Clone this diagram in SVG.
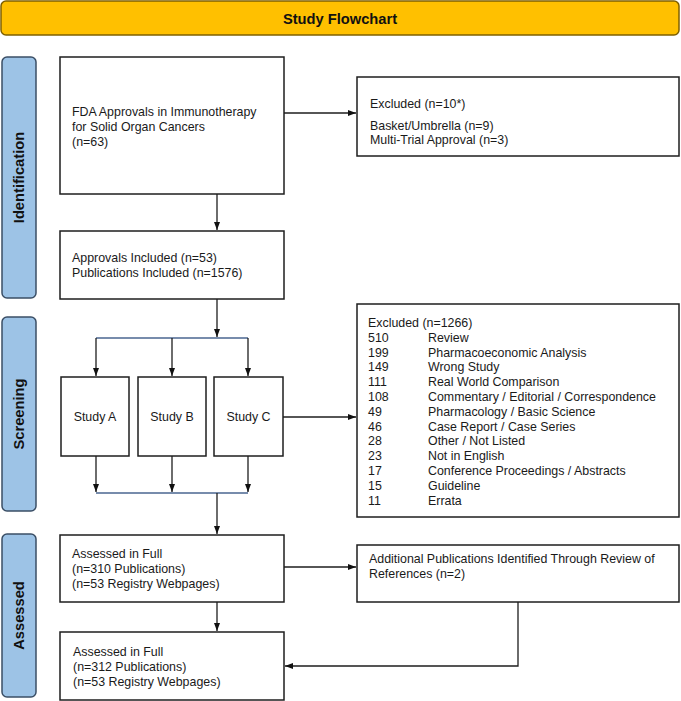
<svg xmlns="http://www.w3.org/2000/svg" width="681" height="701" viewBox="0 0 681 701">
<defs>
<marker id="arr" markerUnits="userSpaceOnUse" markerWidth="9" markerHeight="7" refX="8" refY="3" orient="auto">
<path d="M0,0 L8,3 L0,6 z" fill="#111"/>
</marker>
<style>
text{font-family:"Liberation Sans",Arial,sans-serif;font-size:12.4px;fill:#1a1a1a}
.box{fill:#fff;stroke:#1e1e1e;stroke-width:1.5}
.side{fill:#9dc3e6;stroke:#3b4f66;stroke-width:1.5}
.sidet{font-weight:bold;font-size:14.7px;fill:#111;text-anchor:middle}
.ln{fill:none;stroke:#1e1e1e;stroke-width:1.3}
.bl{fill:none;stroke:#4a6690;stroke-width:1.3}
.c{text-anchor:middle}
</style>
</defs>
<g id="header">
<rect x="1" y="1" width="678" height="34" rx="5" fill="#ffc000" stroke="#7f6000" stroke-width="1.5"/>
<text x="340" y="24" style="font-weight:bold;font-size:14.7px;fill:#111" text-anchor="middle">Study Flowchart</text>
</g>
<g id="lbl-identification">
<rect class="side" x="2" y="57" width="34" height="241" rx="5"/>
<text class="sidet" transform="translate(24,177.5) rotate(-90)">Identification</text>
</g>
<g id="lbl-screening">
<rect class="side" x="2" y="317" width="34" height="194" rx="5"/>
<text class="sidet" transform="translate(24,414) rotate(-90)">Screening</text>
</g>
<g id="lbl-assessed">
<rect class="side" x="2" y="534" width="34" height="163" rx="5"/>
<text class="sidet" transform="translate(24,615.5) rotate(-90)">Assessed</text>
</g>
<g id="connectors">
<path class="ln" d="M284 113 H356" marker-end="url(#arr)"/>
<path class="ln" d="M217 194 V230" marker-end="url(#arr)"/>
<path class="ln" d="M217 299 V337" marker-end="url(#arr)"/>
<path class="bl" d="M96 338 H248"/>
<path class="ln" d="M96 338 V376" marker-end="url(#arr)"/>
<path class="ln" d="M172 338 V376" marker-end="url(#arr)"/>
<path class="ln" d="M248 338 V376" marker-end="url(#arr)"/>
<path class="ln" d="M96 456 V492" marker-end="url(#arr)"/>
<path class="ln" d="M172 456 V492" marker-end="url(#arr)"/>
<path class="ln" d="M248 456 V492" marker-end="url(#arr)"/>
<path class="bl" d="M96 493 H248"/>
<path class="ln" d="M217 493 V534" marker-end="url(#arr)"/>
<path class="ln" d="M283 417 H356" marker-end="url(#arr)"/>
<path class="ln" d="M284 567 H356" marker-end="url(#arr)"/>
<path class="ln" d="M217 602 V631" marker-end="url(#arr)"/>
<path class="ln" d="M518 602 V666 H285" marker-end="url(#arr)"/>
</g>
<g id="fda">
<rect class="box" x="60" y="57" width="224" height="137"/>
<text x="72" y="116">FDA Approvals in Immunotherapy</text>
<text x="72" y="131">for Solid Organ Cancers</text>
<text x="72" y="146">(n=63)</text>
</g>
<g id="approvals">
<rect class="box" x="60" y="231" width="224" height="68"/>
<text x="72" y="262">Approvals Included (n=53)</text>
<text x="72" y="277">Publications Included (n=1576)</text>
</g>
<g id="excluded1">
<rect class="box" x="357" y="77" width="322" height="79"/>
<text x="370" y="108">Excluded (n=10*)</text>
<text x="370" y="130">Basket/Umbrella (n=9)</text>
<text x="370" y="144">Multi-Trial Approval (n=3)</text>
</g>
<g id="studyA">
<rect class="box" x="61" y="377" width="68" height="79"/>
<text class="c" x="95" y="421">Study A</text>
</g>
<g id="studyB">
<rect class="box" x="138" y="377" width="68" height="79"/>
<text class="c" x="172" y="421">Study B</text>
</g>
<g id="studyC">
<rect class="box" x="214" y="377" width="69" height="79"/>
<text class="c" x="248.5" y="421">Study C</text>
</g>
<g id="excluded2">
<rect class="box" x="357" y="304" width="322" height="213"/>
<text x="368" y="327">Excluded (n=1266)</text>
<text x="368" y="341.8">510</text><text x="428" y="341.8">Review</text>
<text x="368" y="356.6">199</text><text x="428" y="356.6">Pharmacoeconomic Analysis</text>
<text x="368" y="371.4">149</text><text x="428" y="371.4">Wrong Study</text>
<text x="368" y="386.2">111</text><text x="428" y="386.2">Real World Comparison</text>
<text x="368" y="401">108</text><text x="428" y="401">Commentary / Editorial / Correspondence</text>
<text x="368" y="415.8">49</text><text x="428" y="415.8">Pharmacology / Basic Science</text>
<text x="368" y="430.6">46</text><text x="428" y="430.6">Case Report / Case Series</text>
<text x="368" y="445.4">28</text><text x="428" y="445.4">Other / Not Listed</text>
<text x="368" y="460.2">23</text><text x="428" y="460.2">Not in English</text>
<text x="368" y="475">17</text><text x="428" y="475">Conference Proceedings / Abstracts</text>
<text x="368" y="489.8">15</text><text x="428" y="489.8">Guideline</text>
<text x="368" y="504.6">11</text><text x="428" y="504.6">Errata</text>
</g>
<g id="assessed1">
<rect class="box" x="60" y="535" width="224" height="67"/>
<text x="72" y="558">Assessed in Full</text>
<text x="72" y="573">(n=310 Publications)</text>
<text x="72" y="588">(n=53 Registry Webpages)</text>
</g>
<g id="additional">
<rect class="box" x="357" y="545" width="322" height="57"/>
<text x="369" y="563">Additional Publications Identified Through Review of</text>
<text x="369" y="578">References (n=2)</text>
</g>
<g id="assessed2">
<rect class="box" x="60" y="632" width="224" height="68"/>
<text x="73" y="656">Assessed in Full</text>
<text x="73" y="671">(n=312 Publications)</text>
<text x="73" y="686">(n=53 Registry Webpages)</text>
</g>
</svg>
